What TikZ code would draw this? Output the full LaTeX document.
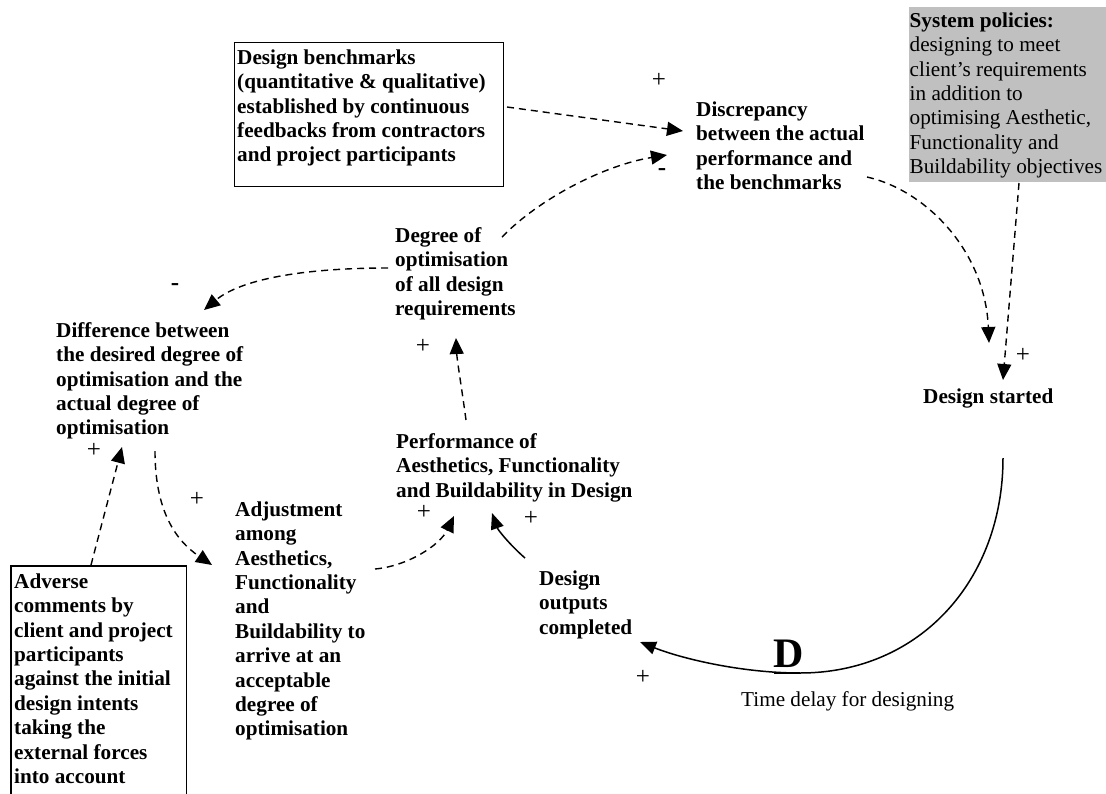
\documentclass[tikz,border=0pt]{standalone}
\usepackage{fontspec}
\setmainfont{Liberation Serif}
\usetikzlibrary{arrows.meta}
\definecolor{greybox}{RGB}{192,192,192}
\tikzset{
  txt/.style={inner sep=0pt, anchor=north west, align=left, font=\fontsize{21.2}{24.4}\selectfont\bfseries},
  rtxt/.style={txt, font=\fontsize{21.2}{24.4}\selectfont},
  sgn/.style={inner sep=0pt, font=\fontsize{25}{25}\selectfont},
  msgn/.style={inner sep=0pt, font=\fontsize{25}{25}\selectfont\bfseries},
  frame/.style={draw, line width=1.4pt, inner sep=0pt, anchor=north west},
  link/.style={line width=1.4pt, dash pattern=on 7pt off 5pt, -{Triangle[length=16pt,width=14pt]}},
  flow/.style={line width=1.5pt, -{Triangle[length=16pt,width=13pt]}},
}
\begin{document}
\begin{tikzpicture}[x=1pt,y=-1pt]
\useasboundingbox (0,0) rectangle (1106,793);

% boxes
\node[frame, minimum width=269pt, minimum height=144pt] (benchbox) at (234,42) {};
\node[fill=greybox, inner sep=0pt, anchor=north west, minimum width=197pt, minimum height=175pt] (sysbox) at (909,7) {};
\node[inner sep=0pt, anchor=north west, minimum width=175pt, minimum height=240pt] (advbox) at (11,566) {};
\draw[line width=1.4pt] (advbox.south west) |- (advbox.north east) -- (advbox.south east);

% texts
\node[txt] (bench) at (237,47) {\strut Design benchmarks\\(quantitative \& qualitative)\\established by continuous\\feedbacks from contractors\\and project participants};
\node[txt] (disc) at (696,99) {\strut Discrepancy\\between the actual\\performance and\\the benchmarks};
\node[rtxt] (sys) at (909.5,10) {\strut\textbf{System policies:}\\designing to meet\\client's requirements\\in addition to\\optimising Aesthetic,\\Functionality and\\Buildability objectives};
\node[txt] (degree) at (395,225) {\strut Degree of\\optimisation\\of all design\\requirements};
\node[txt] (diff) at (56,320) {\strut Difference between\\the desired degree of\\optimisation and the\\actual degree of\\optimisation};
\node[txt] (perf) at (396,431) {\strut Performance of\\Aesthetics, Functionality\\and Buildability in Design};
\node[txt] (adj) at (235,499) {\strut Adjustment\\among\\Aesthetics,\\Functionality\\and\\Buildability to\\arrive at an\\acceptable\\degree of\\optimisation};
\node[txt] (adverse) at (14,571) {\strut Adverse\\comments by\\client and project\\participants\\against the initial\\design intents\\taking the\\external forces\\into account};
\node[txt] (outputs) at (539,568) {\strut Design\\outputs\\completed};
\node[txt] (started) at (923,386) {\strut Design started};
\node[inner sep=0pt, anchor=base, font=\fontsize{42}{42}\selectfont\bfseries] (D) at (789,667) {D};
\node[rtxt] (time) at (741,689) {\strut Time delay for designing};

% signs
\node[sgn] (s1) at (659,80) {+};
\node[msgn] (s2) at (662,172) {-};
\node[msgn] (s3) at (175,287) {-};
\node[sgn] (s4) at (423,346) {+};
\node[sgn] (s5) at (94,450) {+};
\node[sgn] (s6) at (197,499) {+};
\node[sgn] (s7) at (424,512) {+};
\node[sgn] (s8) at (531,518) {+};
\node[sgn] (s9) at (1023,355) {+};
\node[sgn] (s10) at (643,677) {+};

% connector end points
\coordinate (benchOut) at (507,107);
\coordinate (discIn1) at (683,131);
\coordinate (degOut1) at (502,237);
\coordinate (discIn2) at (667,155);
\coordinate (discOut) at (867,177);
\coordinate (startIn1) at (989,343);
\coordinate (sysOut) at (1019,183);
\coordinate (startIn2) at (1003,380);
\coordinate (degOut2) at (388,268);
\coordinate (diffIn1) at (204,310);
\coordinate (perfOut) at (466,420);
\coordinate (degIn) at (456,338);
\coordinate (advOut) at (91,565);
\coordinate (diffIn2) at (122,447);
\coordinate (diffOut) at (155,451);
\coordinate (adjIn) at (212,565);
\coordinate (adjOut) at (375,569);
\coordinate (perfIn1) at (454,516);
\coordinate (outOut) at (525,558);
\coordinate (perfIn2) at (492,513);
\coordinate (startOut) at (1003,458);
\coordinate (delay) at (800,673);
\coordinate (outIn) at (640,642);

% connectors
\draw[link] (benchOut) -- (discIn1);
\draw[link] (degOut1) .. controls (540,198) and (605,165) .. (discIn2);
\draw[link] (discOut) .. controls (925,190) and (985,250) .. (startIn1);
\draw[link] (sysOut) -- (startIn2);
\draw[link] (degOut2) .. controls (300,268) and (240,280) .. (diffIn1);
\draw[link] (perfOut) .. controls (462,390) and (457,360) .. (degIn);
\draw[link] (advOut) -- (diffIn2);
\draw[link] (diffOut) .. controls (155,510) and (175,540) .. (adjIn);
\draw[link] (adjOut) .. controls (408,566) and (440,545) .. (perfIn1);
\draw[flow] (outOut) .. controls (510,545) and (498,530) .. (perfIn2);
\draw[flow] (startOut) .. controls (1003,580) and (920,673) .. (delay)
  .. controls (740,673) and (680,658) .. (outIn);
\draw[line width=2.8pt] (774,673) -- (delay);
\end{tikzpicture}
\end{document}
